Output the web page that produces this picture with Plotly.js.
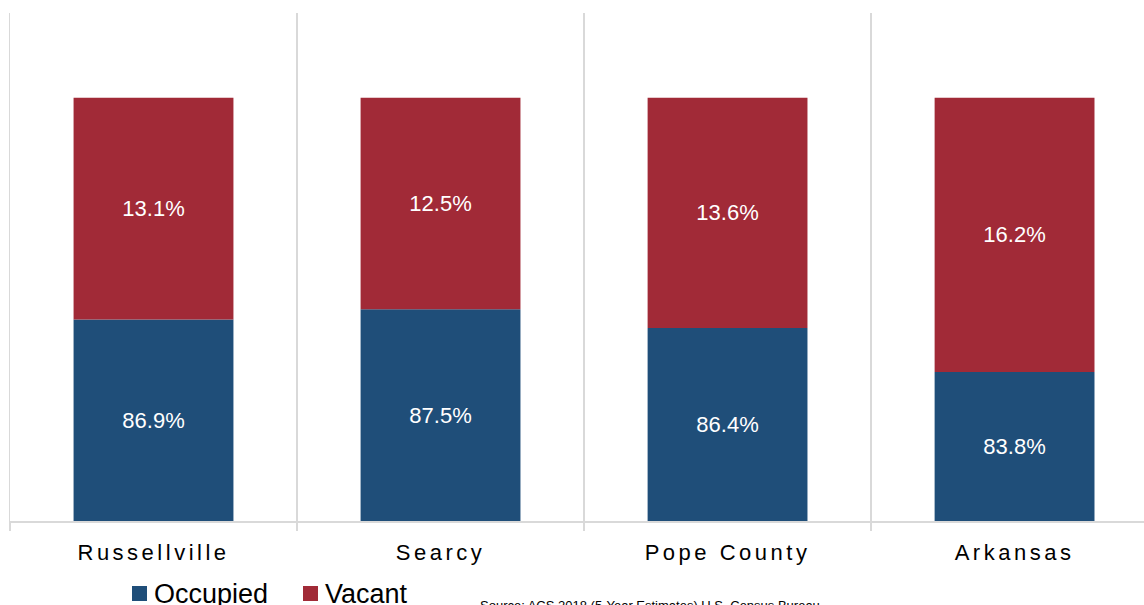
<!DOCTYPE html>
<html>
<head>
<meta charset="utf-8">
<script src="https://cdn.plot.ly/plotly-3.0.1.min.js"></script>
<style>
html,body{margin:0;padding:0;background:#fff;}
#chart{width:1144px;height:605px;}
.xtick text{letter-spacing:3.5px;}
</style>
</head>
<body>
<div id="chart"></div>
<script>
const categories = ["Russellville", "Searcy", "Pope County", "Arkansas"];
const occupied = [86.9, 87.5, 86.4, 83.8];
const vacant = [13.1, 12.5, 13.6, 16.2];
const seriesNames = ["Occupied", "Vacant"];
const seriesColors = ["#1F4E79", "#A12A37"];
const sourceNote = "Source: ACS 2018 (5-Year Estimates) U.S. Census Bureau";

const yMin = 75, yMax = 105;
const fmt = v => v.toFixed(1) + "%";
const FONT = "Liberation Sans, Arial, sans-serif";
const labelFont = {family: FONT, size: 22, color: "#ffffff"};

// plot area in pixels
const M = {l: 10, r: 0, t: 13, b: 84}, W = 1144, H = 605;
const pw = W - M.l - M.r, ph = H - M.t - M.b;
const px = x => (x - M.l) / pw;
const py = y => (H - M.b - y) / ph;

const traces = [
  {
    type: "bar", name: seriesNames[0], x: categories,
    base: occupied.map(() => yMin),
    y: occupied.map(v => v - yMin),
    text: occupied.map(fmt), textposition: "inside", insidetextanchor: "middle",
    textfont: labelFont, marker: {color: seriesColors[0]}, hoverinfo: "skip", showlegend: false
  },
  {
    type: "bar", name: seriesNames[1], x: categories,
    base: occupied,
    y: vacant,
    text: vacant.map(fmt), textposition: "inside", insidetextanchor: "middle",
    textfont: labelFont, marker: {color: seriesColors[1]}, hoverinfo: "skip", showlegend: false
  }
];

// manual legend (squares + labels)
const legendX = [132, 303];
const shapes = seriesNames.map((n, i) => ({
  type: "rect", xref: "paper", yref: "paper",
  x0: px(legendX[i]), x1: px(legendX[i] + 15), y0: py(601), y1: py(586),
  fillcolor: seriesColors[i], line: {width: 0}
}));
const annotations = seriesNames.map((n, i) => ({
  text: n, xref: "paper", yref: "paper",
  x: px(legendX[i] + 20), y: py(594), xanchor: "left", yanchor: "middle",
  showarrow: false, font: {family: FONT, size: 27, color: "#000"}
}));
annotations.push({
  text: sourceNote, xref: "paper", yref: "paper",
  x: px(478), y: py(596), xanchor: "left", yanchor: "top",
  showarrow: false, font: {family: FONT, size: 13, color: "#000"}
});

const layout = {
  width: W, height: H, margin: M,
  paper_bgcolor: "#fff", plot_bgcolor: "#fff",
  barmode: "overlay", bargap: 0.443,
  font: {family: FONT, color: "#000"},
  xaxis: {
    type: "category", range: [-0.5, 3.451],
    tickson: "boundaries", ticks: "outside", ticklen: 8, tickwidth: 1.5, tickcolor: "#d9d9d9",
    showgrid: true, gridcolor: "#d9d9d9", gridwidth: 1.5,
    showline: true, linecolor: "#d9d9d9", linewidth: 2,
    ticklabelstandoff: 11,
    tickfont: {family: FONT, size: 22, color: "#000"}, fixedrange: true
  },
  yaxis: {
    range: [yMin, yMax], showgrid: false, zeroline: false,
    showticklabels: false, ticks: "", showline: true, linecolor: "#d9d9d9", linewidth: 1.5,
    fixedrange: true
  },
  showlegend: false,
  shapes: shapes,
  annotations: annotations
};

Plotly.newPlot("chart", traces, layout, {displayModeBar: false, staticPlot: true});
</script>
</body>
</html>
